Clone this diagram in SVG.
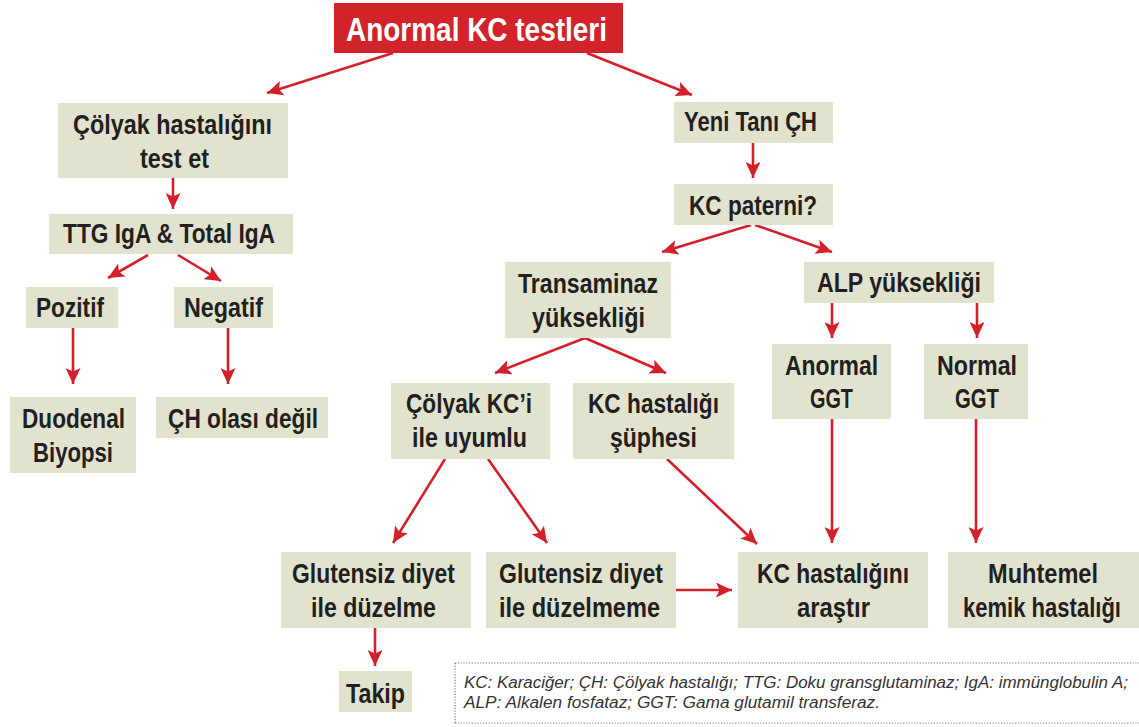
<svg xmlns="http://www.w3.org/2000/svg" width="1139" height="727" viewBox="0 0 1139 727">
<style>
.n rect{fill:#e1e3cf}
.n text,.t text{font-family:"Liberation Sans",Arial,sans-serif;font-weight:bold;font-size:27.5px;fill:#231f20;text-anchor:middle}
.t rect{fill:#d2232a}
.t text{fill:#fff;font-size:33px}
.c line{stroke:#d3212c;stroke-width:2.6;marker-end:url(#ah)}
.lg text{font-family:"Liberation Sans",Arial,sans-serif;font-style:italic;font-size:16px;fill:#333}
.lg line{stroke:#777;stroke-width:1.2;stroke-dasharray:1.2 1.6}
</style>
<defs>
<marker id="ah" markerUnits="userSpaceOnUse" markerWidth="17" markerHeight="15" refX="16" refY="7.5" orient="auto">
<path d="M0,0 L16,7.5 L0,15 L3.5,7.5 Z" fill="#d3212c"/>
</marker>
</defs>
<g class="c" id="connectors">
<line x1="393" y1="53" x2="267" y2="93"/>
<line x1="587" y1="53" x2="692" y2="95"/>
<line x1="173" y1="178" x2="173" y2="209"/>
<line x1="148" y1="255" x2="108" y2="278"/>
<line x1="178" y1="255" x2="221" y2="281"/>
<line x1="73" y1="328" x2="73" y2="384"/>
<line x1="228" y1="328" x2="228" y2="384"/>
<line x1="753" y1="143" x2="753" y2="178"/>
<line x1="751" y1="225" x2="662" y2="252"/>
<line x1="755" y1="225" x2="832" y2="252"/>
<line x1="585" y1="338" x2="495" y2="373"/>
<line x1="585" y1="338" x2="666" y2="373"/>
<line x1="832" y1="303" x2="832" y2="338"/>
<line x1="977" y1="303" x2="977" y2="338"/>
<line x1="445" y1="459" x2="393" y2="543"/>
<line x1="488" y1="459" x2="547" y2="543"/>
<line x1="667" y1="459" x2="757" y2="544"/>
<line x1="832" y1="419" x2="832" y2="543"/>
<line x1="976" y1="419" x2="976" y2="543"/>
<line x1="676" y1="590" x2="732" y2="590"/>
<line x1="375" y1="628" x2="375" y2="666"/>
</g>
<g class="t" id="title"><rect x="334" y="3" width="289" height="50"/><text x="476.5" y="41" textLength="261" lengthAdjust="spacingAndGlyphs">Anormal KC testleri</text></g>
<g class="n" id="colyak"><rect x="58" y="103" width="230" height="75"/><text x="172.5" y="134" textLength="199" lengthAdjust="spacingAndGlyphs">Çölyak hastalığını</text><text x="174.5" y="168" textLength="69" lengthAdjust="spacingAndGlyphs">test et</text></g>
<g class="n" id="yeni"><rect x="674" y="102" width="159" height="41"/><text x="750.5" y="131" textLength="133" lengthAdjust="spacingAndGlyphs">Yeni Tanı ÇH</text></g>
<g class="n" id="ttg"><rect x="49" y="214" width="244" height="40"/><text x="169" y="243" textLength="212" lengthAdjust="spacingAndGlyphs">TTG IgA &amp; Total IgA</text></g>
<g class="n" id="kcpaterni"><rect x="674" y="184" width="159" height="41"/><text x="753" y="215" textLength="128" lengthAdjust="spacingAndGlyphs">KC paterni?</text></g>
<g class="n" id="pozitif"><rect x="26" y="287" width="92" height="41"/><text x="70" y="317" textLength="68" lengthAdjust="spacingAndGlyphs">Pozitif</text></g>
<g class="n" id="negatif"><rect x="174" y="287" width="99" height="41"/><text x="223.5" y="317" textLength="79" lengthAdjust="spacingAndGlyphs">Negatif</text></g>
<g class="n" id="transaminaz"><rect x="505" y="262" width="166" height="76"/><text x="588" y="293" textLength="140" lengthAdjust="spacingAndGlyphs">Transaminaz</text><text x="588.5" y="327" textLength="113" lengthAdjust="spacingAndGlyphs">yüksekliği</text></g>
<g class="n" id="alp"><rect x="804" y="262" width="190" height="41"/><text x="899" y="292" textLength="164" lengthAdjust="spacingAndGlyphs">ALP yüksekliği</text></g>
<g class="n" id="anormalggt"><rect x="772" y="344" width="119" height="75"/><text x="831.5" y="375" textLength="93" lengthAdjust="spacingAndGlyphs">Anormal</text><text x="831.5" y="408" textLength="43" lengthAdjust="spacingAndGlyphs">GGT</text></g>
<g class="n" id="normalggt"><rect x="924" y="344" width="104" height="75"/><text x="977" y="375" textLength="80" lengthAdjust="spacingAndGlyphs">Normal</text><text x="977" y="408" textLength="44" lengthAdjust="spacingAndGlyphs">GGT</text></g>
<g class="n" id="duodenal"><rect x="10" y="397" width="126" height="76"/><text x="73.5" y="428" textLength="103" lengthAdjust="spacingAndGlyphs">Duodenal</text><text x="73" y="462" textLength="80" lengthAdjust="spacingAndGlyphs">Biyopsi</text></g>
<g class="n" id="cholasi"><rect x="156" y="397" width="172" height="41"/><text x="243" y="428" textLength="150" lengthAdjust="spacingAndGlyphs">ÇH olası değil</text></g>
<g class="n" id="colyakkc"><rect x="391" y="383" width="159" height="76"/><text x="469" y="413" textLength="126" lengthAdjust="spacingAndGlyphs">Çölyak KC’i</text><text x="469.5" y="447" textLength="115" lengthAdjust="spacingAndGlyphs">ile uyumlu</text></g>
<g class="n" id="kcsuphe"><rect x="573" y="383" width="161" height="76"/><text x="653.5" y="413" textLength="131" lengthAdjust="spacingAndGlyphs">KC hastalığı</text><text x="653.5" y="447" textLength="87" lengthAdjust="spacingAndGlyphs">şüphesi</text></g>
<g class="n" id="glut1"><rect x="281" y="552" width="190" height="76"/><text x="373.5" y="583" textLength="163" lengthAdjust="spacingAndGlyphs">Glutensiz diyet</text><text x="373.5" y="617" textLength="125" lengthAdjust="spacingAndGlyphs">ile düzelme</text></g>
<g class="n" id="glut2"><rect x="486" y="552" width="190" height="76"/><text x="581" y="583" textLength="164" lengthAdjust="spacingAndGlyphs">Glutensiz diyet</text><text x="579.5" y="617" textLength="161" lengthAdjust="spacingAndGlyphs">ile düzelmeme</text></g>
<g class="n" id="kcarastir"><rect x="738" y="552" width="190" height="76"/><text x="833" y="583" textLength="152" lengthAdjust="spacingAndGlyphs">KC hastalığını</text><text x="833.5" y="617" textLength="73" lengthAdjust="spacingAndGlyphs">araştır</text></g>
<g class="n" id="muhtemel"><rect x="948" y="552" width="191" height="76"/><text x="1043" y="583" textLength="110" lengthAdjust="spacingAndGlyphs">Muhtemel</text><text x="1042" y="617" textLength="158" lengthAdjust="spacingAndGlyphs">kemik hastalığı</text></g>
<g class="n" id="takip"><rect x="339" y="671" width="73" height="41"/><text x="375.5" y="703" textLength="59" lengthAdjust="spacingAndGlyphs">Takip</text></g>
<g class="lg" id="legend">
<line x1="455" y1="663" x2="1139" y2="663"/>
<line x1="455" y1="723" x2="1139" y2="723"/>
<line x1="455" y1="663" x2="455" y2="723"/>
<text x="464" y="688" textLength="664" lengthAdjust="spacingAndGlyphs">KC: Karaciğer; ÇH: Çölyak hastalığı; TTG: Doku gransglutaminaz; IgA: immünglobulin A;</text>
<text x="464" y="708" textLength="416" lengthAdjust="spacingAndGlyphs">ALP: Alkalen fosfataz; GGT: Gama glutamil transferaz.</text>
</g>
</svg>
